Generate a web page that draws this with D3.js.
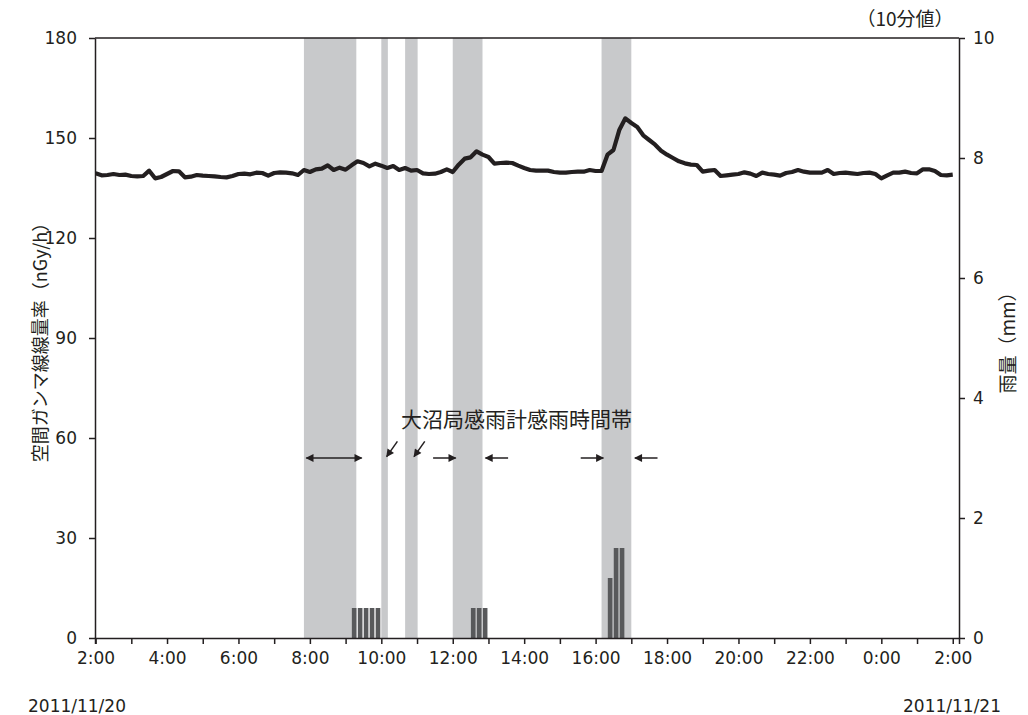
<!DOCTYPE html>
<html>
<head>
<meta charset="utf-8">
<script src="https://cdn.jsdelivr.net/npm/d3@7/dist/d3.min.js"></script>
<style>
  body { margin: 0; background: #fff; }
  svg { display: block; font-family: "DejaVu Sans", "Noto Sans CJK JP", sans-serif; }
  .axis path, .axis line { stroke: #231f20; stroke-width: 1.5; }
</style>
</head>
<body>
<div id="chart"></div>
<script>
// 10-minute dose rate values (nGy/h), 2011/11/20 2:00 .. 2011/11/21 2:00
var doseValues = [
  139.4, 138.8, 138.9, 139.2, 138.9, 139.0, 138.6, 138.5, 138.6, 140.2,
  137.9, 138.3, 139.2, 140.1, 140.0, 138.2, 138.4, 138.9, 138.7, 138.6,
  138.5, 138.3, 138.2, 138.6, 139.2, 139.3, 139.1, 139.6, 139.5, 138.7,
  139.5, 139.7, 139.6, 139.4, 138.9, 140.4, 139.8, 140.6, 140.8, 141.8,
  140.4, 141.1, 140.5, 141.8, 143.0, 142.5, 141.5, 142.3, 141.7, 141.0,
  141.6, 140.4, 141.0, 140.2, 140.4, 139.4, 139.2, 139.3, 139.8, 140.6,
  139.8, 142.0, 143.8, 144.2, 146.0, 145.0, 144.3, 142.3, 142.5, 142.6,
  142.5, 141.7, 141.0, 140.4, 140.2, 140.2, 140.2, 139.8, 139.6, 139.6,
  139.8, 139.9, 139.9, 140.4, 140.1, 140.1, 145.0, 146.4, 152.5, 155.9,
  154.5, 153.3, 150.8, 149.4, 148.0, 146.2, 145.0, 144.0, 143.0, 142.4,
  142.0, 141.9, 139.9, 140.2, 140.4, 138.6, 138.8, 139.0, 139.2, 139.7,
  139.3, 138.6, 139.6, 139.2, 139.0, 138.7, 139.5, 139.8, 140.4, 139.9,
  139.6, 139.6, 139.6, 140.4, 139.2, 139.5, 139.6, 139.4, 139.2, 139.5,
  139.6, 139.2, 137.9, 138.8, 139.6, 139.6, 139.9, 139.5, 139.4, 140.6,
  140.6, 140.1, 138.9, 138.8, 139.0
];

// rain (mm per 10 min)
var rainTimes  = ["9:10", "9:20", "9:30", "9:40", "9:50", "12:30", "12:40", "12:50", "16:20", "16:30", "16:40"];
var rainValues = [0.5, 0.5, 0.5, 0.5, 0.5, 0.5, 0.5, 0.5, 1.0, 1.5, 1.5];

// rain sensor "on" periods
var bandStarts = ["7:50", "10:00", "10:40", "12:00", "16:10"];
var bandEnds   = ["9:18", "10:11", "11:01", "12:50", "17:00"];

var leftTicks  = [0, 30, 60, 90, 120, 150, 180];
var rightTicks = [0, 2, 4, 6, 8, 10];

// annotation arrows: [from, to] times, at dose-rate level
var arrowFrom = ["7:54", "11:27", "13:33", "15:35", "17:44"];
var arrowTo   = ["9:27", "12:05", "12:55", "16:13", "17:06"];
var arrowBoth = [true, false, false, false, false];
var diagTail  = ["10:27", "11:13"];
var diagTip   = ["10:09", "10:55"];

var W = 1028, H = 715
  , margin = {top: 38, right: 69, bottom: 77, left: 95}
  , width = W - margin.left - margin.right
  , height = H - margin.top - margin.bottom
  , ink = "#231f20"
  , cjk = "'Noto Sans CJK JP', sans-serif"
;

function t(hm) {
    var p = hm.split(":");
    var h = +p[0];
    var day = h < 2 ? 21 : 20;
    return new Date(2011, 10, day, h, +p[1]);
}

var t0 = new Date(2011, 10, 20, 2, 0);
var doseTimes = doseValues.map(function(d, i) { return new Date(t0.getTime() + i * 600000); });

var x = d3.scaleTime()
    .domain([new Date(2011, 10, 20, 1, 59), new Date(2011, 10, 21, 2, 10, 30)])
    .range([0, width]);
var y = d3.scaleLinear().domain([0, 180]).range([height, 0]);
var y2 = d3.scaleLinear().domain([0, 10]).range([height, 0]);

var svg = d3.select("#chart").append("svg")
    .attr("width", W)
    .attr("height", H);

svg.append("defs").append("marker")
    .attr("id", "ah")
    .attr("viewBox", "0 0 10 10")
    .attr("refX", 9).attr("refY", 5)
    .attr("markerWidth", 11).attr("markerHeight", 8)
    .attr("markerUnits", "userSpaceOnUse")
    .attr("orient", "auto-start-reverse")
  .append("path")
    .attr("d", "M0,0 L10,5 L0,10 Z")
    .attr("fill", ink);

var g = svg.append("g")
    .attr("transform", "translate(" + margin.left + "," + margin.top + ")");

// grey bands
g.selectAll(".band")
    .data(bandStarts)
  .enter().append("rect")
    .attr("class", "band")
    .attr("x", function(d) { return x(t(d)); })
    .attr("width", function(d, i) { return x(t(bandEnds[i])) - x(t(d)); })
    .attr("y", 0)
    .attr("height", height)
    .attr("fill", "#c8c9cb");

// rain bars
var slot = x(new Date(t0.getTime() + 600000)) - x(t0);
g.selectAll(".rain")
    .data(rainValues)
  .enter().append("rect")
    .attr("class", "rain")
    .attr("x", function(d, i) { return x(t(rainTimes[i])) + 0.3; })
    .attr("width", slot * 0.78)
    .attr("y", function(d) { return y2(d); })
    .attr("height", function(d) { return height - y2(d); })
    .attr("fill", "#58595b");

// dose rate line
var line = d3.line()
    .x(function(d, i) { return x(doseTimes[i]); })
    .y(function(d) { return y(d); });

g.append("path")
    .datum(doseValues)
    .attr("fill", "none")
    .attr("stroke", ink)
    .attr("stroke-width", 4.2)
    .attr("stroke-linejoin", "round")
    .attr("d", line);

// top frame
g.append("line").attr("x1", 0).attr("x2", width).attr("y1", 0).attr("y2", 0)
    .attr("stroke", ink).attr("stroke-width", 1.5);

// axes
var xAxis = d3.axisBottom(x)
    .ticks(d3.timeHour.every(1))
    .tickSizeOuter(0)
    .tickSize(6)
    .tickPadding(8)
    .tickFormat(function(d) { return d.getHours() % 2 === 0 ? d3.timeFormat("%-H:%M")(d) : ""; });

g.append("g")
    .attr("class", "axis")
    .attr("transform", "translate(0," + height + ")")
    .call(xAxis);

g.append("g")
    .attr("class", "axis")
    .call(d3.axisLeft(y).tickValues(leftTicks).tickSize(6).tickSizeOuter(0).tickPadding(12));

g.append("g")
    .attr("class", "axis")
    .attr("transform", "translate(" + width + ",0)")
    .call(d3.axisRight(y2).tickValues(rightTicks).tickSize(6).tickSizeOuter(0).tickPadding(8));

g.selectAll(".axis")
    .attr("font-family", "'DejaVu Sans', sans-serif")
    .attr("font-size", 17);
g.selectAll(".axis text").attr("fill", ink);

// annotations
g.append("text")
    .attr("x", x(t("11:10")) - 22)
    .attr("y", y(63.3))
    .attr("font-size", "21px")
    .attr("fill", ink)
    .style("font-family", cjk)
    .text("大沼局感雨計感雨時間帯");

var ay = y(54);
g.selectAll(".arrow")
    .data(arrowFrom)
  .enter().append("line")
    .attr("class", "arrow")
    .attr("x1", function(d) { return x(t(d)); })
    .attr("x2", function(d, i) { return x(t(arrowTo[i])); })
    .attr("y1", ay).attr("y2", ay)
    .attr("stroke", ink)
    .attr("stroke-width", 1.5)
    .attr("marker-end", "url(#ah)")
    .attr("marker-start", function(d, i) { return arrowBoth[i] ? "url(#ah)" : null; });

g.selectAll(".diag")
    .data(diagTail)
  .enter().append("line")
    .attr("class", "diag")
    .attr("x1", function(d) { return x(t(d)); })
    .attr("y1", y(59))
    .attr("x2", function(d, i) { return x(t(diagTip[i])); })
    .attr("y2", y(54.4))
    .attr("stroke", ink)
    .attr("stroke-width", 1.5)
    .attr("marker-end", "url(#ah)");

// axis titles
svg.append("text")
    .attr("transform", "translate(47," + (margin.top + height / 2) + ") rotate(-90)")
    .attr("text-anchor", "middle")
    .attr("font-size", "18px")
    .attr("fill", ink)
    .style("font-family", cjk)
    .text("空間ガンマ線線量率（nGy/h）");

svg.append("text")
    .attr("transform", "translate(1015," + (margin.top + height / 2) + ") rotate(-90)")
    .attr("text-anchor", "middle")
    .attr("font-size", "19px")
    .attr("fill", ink)
    .style("font-family", cjk)
    .text("雨量（mm）");

svg.append("text")
    .attr("x", 905).attr("y", 26)
    .attr("text-anchor", "middle")
    .attr("font-size", "19px")
    .attr("fill", ink)
    .style("font-family", cjk)
    .text("（10分値）");

svg.append("text")
    .attr("x", 28).attr("y", 712)
    .attr("font-size", "17px")
    .attr("fill", ink)
    .text("2011/11/20");

svg.append("text")
    .attr("x", 1001).attr("y", 712)
    .attr("text-anchor", "end")
    .attr("font-size", "17px")
    .attr("fill", ink)
    .text("2011/11/21");
</script>
</body>
</html>
